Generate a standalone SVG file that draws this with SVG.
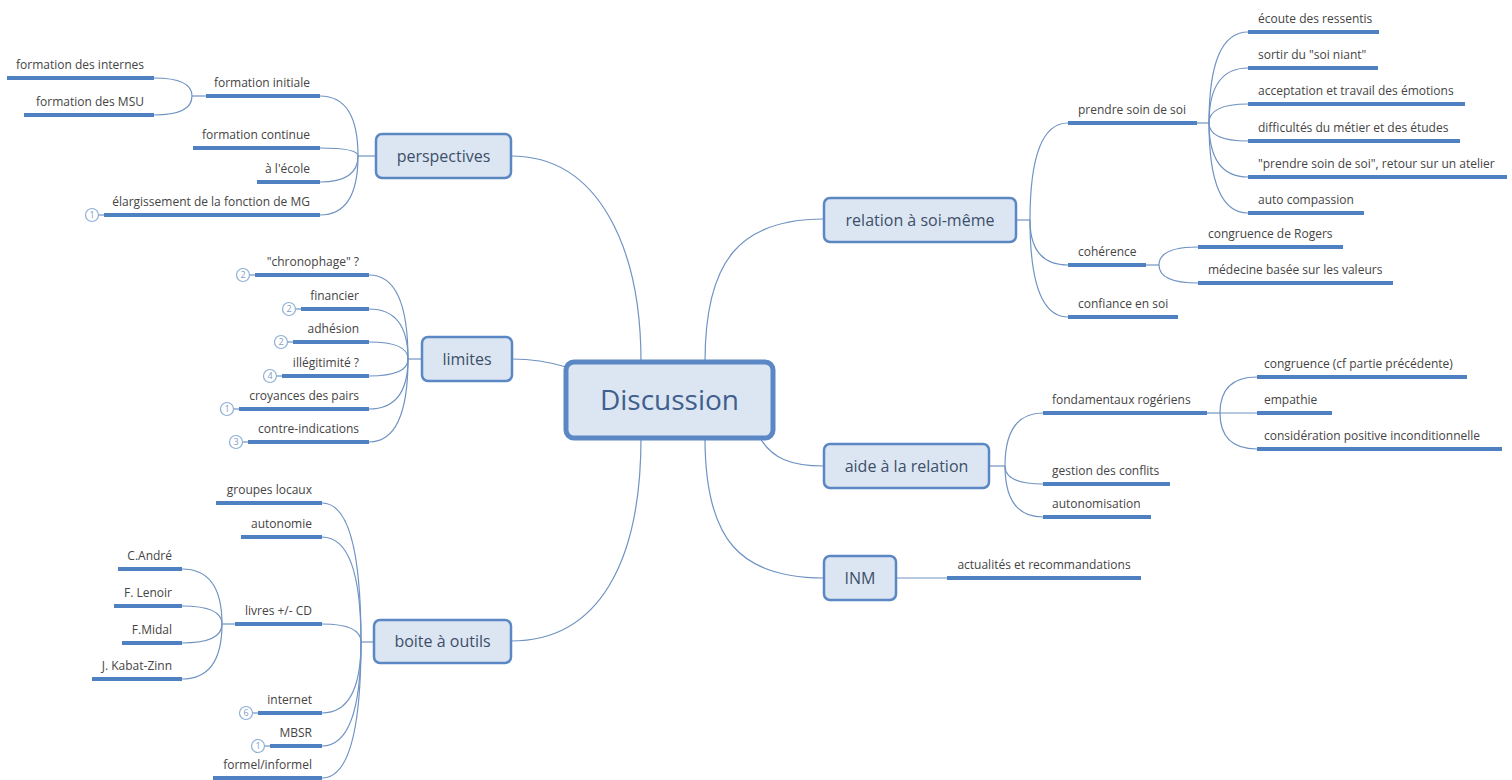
<svg xmlns="http://www.w3.org/2000/svg" width="1512" height="780" viewBox="0 0 1512 780">
<style>
.bg{fill:#ffffff}
.con{fill:none;stroke:#6f93c2;stroke-width:1.2}
.ul{stroke:#4f81c2;stroke-width:4;stroke-linecap:butt}
.lt{font-family:"Open Sans","Liberation Sans",sans-serif;font-size:12px;fill:#444444}
.l{text-anchor:end}
.r{text-anchor:start}
.box{fill:#dce6f3;stroke:#5b88c4;stroke-width:2.5}
.bt{font-family:"Open Sans","Liberation Sans",sans-serif;font-size:16px;fill:#3d4f68;text-anchor:middle}
.badge{fill:#ffffff;stroke:#8fb0d6;stroke-width:1.2}
.bn{font-family:"Open Sans","Liberation Sans",sans-serif;font-size:9px;fill:#7f9cc4;text-anchor:middle}
</style>
<rect class="bg" x="0" y="0" width="1512" height="780"/>
<g id="connectors">
<path class="con" d="M641 362 C641 250 600 156 511 156"/>
<path class="con" d="M566 367 Q540 359 512 359"/>
<path class="con" d="M641 438 C641 560 600 641 511 641"/>
<path class="con" d="M705 362 C705 260 740 219 824 219"/>
<path class="con" d="M760 438 C772 458 790 466 824 466"/>
<path class="con" d="M705 438 C705 540 740 578 824 578"/>
<path class="con" d="M376 156 H358"/>
<path class="con" d="M358 156 Q358 96 320 96"/>
<path class="con" d="M358 156 Q358 148 320 148"/>
<path class="con" d="M358 156 Q358 182 320 182"/>
<path class="con" d="M358 156 Q358 215 320 215"/>
<path class="con" d="M206 96 H192"/>
<path class="con" d="M192 96 Q192 78 154 78"/>
<path class="con" d="M192 96 Q192 115 154 115"/>
<path class="con" d="M422 359 H408"/>
<path class="con" d="M408 359 Q408 275 369 275"/>
<path class="con" d="M408 359 Q408 309 369 309"/>
<path class="con" d="M408 359 Q408 342 369 342"/>
<path class="con" d="M408 359 Q408 376 369 376"/>
<path class="con" d="M408 359 Q408 409 369 409"/>
<path class="con" d="M408 359 Q408 442 369 442"/>
<path class="con" d="M374 642 H361"/>
<path class="con" d="M361 642 Q361 503 322 503"/>
<path class="con" d="M361 642 Q361 537 322 537"/>
<path class="con" d="M361 642 Q361 624 322 624"/>
<path class="con" d="M361 642 Q361 713 322 713"/>
<path class="con" d="M361 642 Q361 746 322 746"/>
<path class="con" d="M361 642 Q361 778 322 778"/>
<path class="con" d="M235 624 H222"/>
<path class="con" d="M222 624 Q222 569 182 569"/>
<path class="con" d="M222 624 Q222 606 182 606"/>
<path class="con" d="M222 624 Q222 643 182 643"/>
<path class="con" d="M222 624 Q222 679 182 679"/>
<path class="con" d="M1016 220 H1030"/>
<path class="con" d="M1030 220 Q1030 123 1068 123"/>
<path class="con" d="M1030 220 Q1030 265 1068 265"/>
<path class="con" d="M1030 220 Q1030 317 1068 317"/>
<path class="con" d="M1197 123 H1209"/>
<path class="con" d="M1209 123 Q1209 32 1248 32"/>
<path class="con" d="M1209 123 Q1209 68 1248 68"/>
<path class="con" d="M1209 123 Q1209 104 1248 104"/>
<path class="con" d="M1209 123 Q1209 141 1248 141"/>
<path class="con" d="M1209 123 Q1209 177 1248 177"/>
<path class="con" d="M1209 123 Q1209 213 1248 213"/>
<path class="con" d="M1146 265 H1159"/>
<path class="con" d="M1159 265 Q1159 247 1198 247"/>
<path class="con" d="M1159 265 Q1159 283 1198 283"/>
<path class="con" d="M989 466 H1005"/>
<path class="con" d="M1005 466 Q1005 413 1043 413"/>
<path class="con" d="M1005 466 Q1005 484 1043 484"/>
<path class="con" d="M1005 466 Q1005 517 1043 517"/>
<path class="con" d="M1207 413 H1220"/>
<path class="con" d="M1220 413 Q1220 377 1257 377"/>
<path class="con" d="M1220 413 H1257"/>
<path class="con" d="M1220 413 Q1220 449 1257 449"/>
<path class="con" d="M896 578 H947"/>
</g>

<g id="discussion">
<rect x="566" y="362" width="207" height="76" rx="8" fill="#dce6f3" stroke="#5b88c4" stroke-width="5"/>
<text x="669.5" y="410" font-family="'Open Sans','Liberation Sans',sans-serif" font-size="28" fill="#3f5f8c" text-anchor="middle">Discussion</text>
</g>

<g id="perspectives">
<rect class="box" x="376" y="134" width="135" height="44" rx="6"/>
<text class="bt" x="443.5" y="161.5">perspectives</text>
</g>
<g id="formation-initiale"><line class="ul" x1="206" y1="96" x2="320" y2="96"/><text class="lt l" x="310" y="87">formation initiale</text></g>
<g id="formation-internes"><line class="ul" x1="7" y1="78" x2="154" y2="78"/><text class="lt l" x="144" y="69">formation des internes</text></g>
<g id="formation-msu"><line class="ul" x1="24" y1="115" x2="154" y2="115"/><text class="lt l" x="144" y="106">formation des MSU</text></g>
<g id="formation-continue"><line class="ul" x1="193" y1="148" x2="320" y2="148"/><text class="lt l" x="310" y="139">formation continue</text></g>
<g id="ecole"><line class="ul" x1="257" y1="182" x2="320" y2="182"/><text class="lt l" x="310" y="173">à l'école</text></g>
<g id="elargissement"><line class="ul" x1="104" y1="215" x2="320" y2="215"/><line class="con" x1="98" y1="215" x2="104" y2="215"/><circle class="badge" cx="92" cy="215" r="6.5"/><text class="bn" x="92" y="218.2">1</text><text class="lt l" x="310" y="206">élargissement de la fonction de MG</text></g>

<g id="limites">
<rect class="box" x="422" y="337" width="90" height="44" rx="6"/>
<text class="bt" x="467" y="364.5">limites</text>
</g>
<g id="chronophage"><line class="ul" x1="255" y1="275" x2="369" y2="275"/><line class="con" x1="249" y1="275" x2="255" y2="275"/><circle class="badge" cx="243" cy="275" r="6.5"/><text class="bn" x="243" y="278.2">2</text><text class="lt l" x="359" y="266">"chronophage" ?</text></g>
<g id="financier"><line class="ul" x1="301" y1="309" x2="369" y2="309"/><line class="con" x1="295" y1="309" x2="301" y2="309"/><circle class="badge" cx="289" cy="309" r="6.5"/><text class="bn" x="289" y="312.2">2</text><text class="lt l" x="359" y="300">financier</text></g>
<g id="adhesion"><line class="ul" x1="293" y1="342" x2="369" y2="342"/><line class="con" x1="287" y1="342" x2="293" y2="342"/><circle class="badge" cx="281" cy="342" r="6.5"/><text class="bn" x="281" y="345.2">2</text><text class="lt l" x="359" y="333">adhésion</text></g>
<g id="illegitimite"><line class="ul" x1="282" y1="376" x2="369" y2="376"/><line class="con" x1="276" y1="376" x2="282" y2="376"/><circle class="badge" cx="270" cy="376" r="6.5"/><text class="bn" x="270" y="379.2">4</text><text class="lt l" x="359" y="367">illégitimité ?</text></g>
<g id="croyances"><line class="ul" x1="239" y1="409" x2="369" y2="409"/><line class="con" x1="233" y1="409" x2="239" y2="409"/><circle class="badge" cx="227" cy="409" r="6.5"/><text class="bn" x="227" y="412.2">1</text><text class="lt l" x="359" y="400">croyances des pairs</text></g>
<g id="contre-indications"><line class="ul" x1="248" y1="442" x2="369" y2="442"/><line class="con" x1="242" y1="442" x2="248" y2="442"/><circle class="badge" cx="236" cy="442" r="6.5"/><text class="bn" x="236" y="445.2">3</text><text class="lt l" x="359" y="433">contre-indications</text></g>

<g id="boite-a-outils">
<rect class="box" x="374" y="620" width="137" height="43" rx="6"/>
<text class="bt" x="442.5" y="647">boite à outils</text>
</g>
<g id="groupes-locaux"><line class="ul" x1="216" y1="503" x2="322" y2="503"/><text class="lt l" x="312" y="494">groupes locaux</text></g>
<g id="autonomie"><line class="ul" x1="241" y1="537" x2="322" y2="537"/><text class="lt l" x="312" y="528">autonomie</text></g>
<g id="livres"><line class="ul" x1="235" y1="624" x2="322" y2="624"/><text class="lt l" x="312" y="615">livres +/- CD</text></g>
<g id="andre"><line class="ul" x1="118" y1="569" x2="182" y2="569"/><text class="lt l" x="172" y="560">C.André</text></g>
<g id="lenoir"><line class="ul" x1="114" y1="606" x2="182" y2="606"/><text class="lt l" x="172" y="597">F. Lenoir</text></g>
<g id="midal"><line class="ul" x1="122" y1="643" x2="182" y2="643"/><text class="lt l" x="172" y="634">F.Midal</text></g>
<g id="kabat-zinn"><line class="ul" x1="92" y1="679" x2="182" y2="679"/><text class="lt l" x="172" y="670">J. Kabat-Zinn</text></g>
<g id="internet"><line class="ul" x1="258" y1="713" x2="322" y2="713"/><line class="con" x1="252" y1="713" x2="258" y2="713"/><circle class="badge" cx="246" cy="713" r="6.5"/><text class="bn" x="246" y="716.2">6</text><text class="lt l" x="312" y="704">internet</text></g>
<g id="mbsr"><line class="ul" x1="270" y1="746" x2="322" y2="746"/><line class="con" x1="264" y1="746" x2="270" y2="746"/><circle class="badge" cx="258" cy="746" r="6.5"/><text class="bn" x="258" y="749.2">1</text><text class="lt l" x="312" y="737">MBSR</text></g>
<g id="formel-informel"><line class="ul" x1="213" y1="778" x2="322" y2="778"/><text class="lt l" x="312" y="769">formel/informel</text></g>

<g id="relation-soi">
<rect class="box" x="824" y="198" width="192" height="44" rx="6"/>
<text class="bt" x="920" y="225.5">relation à soi-même</text>
</g>
<g id="prendre-soin"><line class="ul" x1="1068" y1="123" x2="1197" y2="123"/><text class="lt r" x="1078" y="114">prendre soin de soi</text></g>
<g id="ecoute"><line class="ul" x1="1248" y1="32" x2="1379" y2="32"/><text class="lt r" x="1258" y="23">écoute des ressentis</text></g>
<g id="soi-niant"><line class="ul" x1="1248" y1="68" x2="1378" y2="68"/><text class="lt r" x="1258" y="59">sortir du "soi niant"</text></g>
<g id="acceptation"><line class="ul" x1="1248" y1="104" x2="1465" y2="104"/><text class="lt r" x="1258" y="95">acceptation et travail des émotions</text></g>
<g id="difficultes"><line class="ul" x1="1248" y1="141" x2="1460" y2="141"/><text class="lt r" x="1258" y="132">difficultés du métier et des études</text></g>
<g id="atelier"><line class="ul" x1="1248" y1="177" x2="1507" y2="177"/><text class="lt r" x="1258" y="168">"prendre soin de soi", retour sur un atelier</text></g>
<g id="auto-compassion"><line class="ul" x1="1248" y1="213" x2="1364" y2="213"/><text class="lt r" x="1258" y="204">auto compassion</text></g>
<g id="coherence"><line class="ul" x1="1068" y1="265" x2="1146" y2="265"/><text class="lt r" x="1078" y="256">cohérence</text></g>
<g id="congruence-rogers"><line class="ul" x1="1198" y1="247" x2="1343" y2="247"/><text class="lt r" x="1208" y="238">congruence de Rogers</text></g>
<g id="medecine-valeurs"><line class="ul" x1="1198" y1="283" x2="1393" y2="283"/><text class="lt r" x="1208" y="274">médecine basée sur les valeurs</text></g>
<g id="confiance"><line class="ul" x1="1068" y1="317" x2="1178" y2="317"/><text class="lt r" x="1078" y="308">confiance en soi</text></g>

<g id="aide-relation">
<rect class="box" x="824" y="444" width="165" height="44" rx="6"/>
<text class="bt" x="906.5" y="471.5">aide à la relation</text>
</g>
<g id="fondamentaux"><line class="ul" x1="1043" y1="413" x2="1207" y2="413"/><text class="lt r" x="1052" y="404">fondamentaux rogériens</text></g>
<g id="congruence-cf"><line class="ul" x1="1257" y1="377" x2="1467" y2="377"/><text class="lt r" x="1264" y="368">congruence (cf partie précédente)</text></g>
<g id="empathie"><line class="ul" x1="1257" y1="413" x2="1332" y2="413"/><text class="lt r" x="1264" y="404">empathie</text></g>
<g id="consideration"><line class="ul" x1="1257" y1="449" x2="1502" y2="449"/><text class="lt r" x="1264" y="440">considération positive inconditionnelle</text></g>
<g id="gestion-conflits"><line class="ul" x1="1043" y1="484" x2="1170" y2="484"/><text class="lt r" x="1052" y="475">gestion des conflits</text></g>
<g id="autonomisation"><line class="ul" x1="1043" y1="517" x2="1151" y2="517"/><text class="lt r" x="1052" y="508">autonomisation</text></g>

<g id="inm">
<rect class="box" x="824" y="556" width="72" height="44" rx="6"/>
<text class="bt" x="860" y="583.5">INM</text>
</g>
<g id="actualites"><line class="ul" x1="947" y1="578" x2="1141" y2="578"/><text class="lt" x="1044" y="569" text-anchor="middle">actualités et recommandations</text></g>
</svg>
